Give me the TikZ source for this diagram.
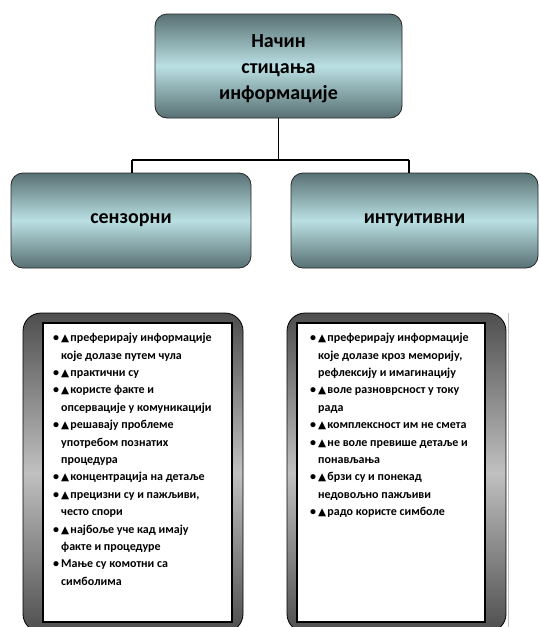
\documentclass[tikz,border=0pt]{standalone}
\usepackage{fontspec}
\setmainfont{Carlito}
\newfontfamily\dejavu{DejaVu Sans}
\definecolor{tealdark}{RGB}{88,112,115}
\definecolor{teallight}{RGB}{186,224,227}
\definecolor{framedark}{RGB}{78,78,78}
\definecolor{framelight}{RGB}{192,192,192}
\newcommand{\mybul}{\makebox[8pt][l]{•}}
\newcommand{\myind}{\hspace*{8pt}}
\newcommand{\mytri}{{\dejavu\fontsize{10.5}{10}\selectfont ▲}\hspace{1.2pt}}
\begin{document}
\begin{tikzpicture}[x=1pt,y=1pt,
  headbox/.style={draw=black!85, line width=0.8pt, rounded corners=12pt,
    top color=tealdark, bottom color=tealdark, middle color=teallight,
    font=\fontsize{20}{26}\selectfont\bfseries, align=center, inner sep=0pt},
  headtext/.style={font=\fontsize{20}{26}\selectfont\bfseries, align=center, inner sep=0pt},
  framebox/.style={draw=black, line width=0.8pt, rounded corners=18pt,
    top color=framedark, bottom color=framedark, middle color=framelight, inner sep=0pt},
  innerbox/.style={draw=black, line width=1.2pt, fill=white, inner sep=0pt},
  listtext/.style={anchor=north west, align=left, inner sep=0pt,
    font=\fontsize{12}{17.4}\selectfont\bfseries},
  conn/.style={draw=black, line width=1.8pt}]
\clip (0,0) rectangle (539,-627);
% top and category boxes
\node[headbox, minimum width=247pt, minimum height=104pt] (top) at (278.5,-66) {};
\node[headtext] (toptext) at (278.5,-69) {Начин\\стицања\\информације};
\node[headbox, minimum width=240pt, minimum height=95pt] (left) at (131,-220.5) {сензорни};
\node[headbox, minimum width=247pt, minimum height=95pt] (right) at (414.5,-220.5) {интуитивни};
% connectors
\coordinate (jl) at (132,-160);
\coordinate (jr) at (409,-160);
\draw[conn] (top.south) -- (top.south |- jl);
\draw[conn] (jl) -- (jr);
\draw[conn] (jl) -- (jl |- left.north);
\draw[conn] (jr) -- (jr |- right.north);
% bottom frames
\node[framebox, minimum width=220pt, minimum height=319pt] (lframe) at (133,-472.5) {};
\node[innerbox, minimum width=189pt, minimum height=299pt] (lbox) at (137.5,-472.5) {};
\node[framebox, minimum width=219pt, minimum height=319pt] (rframe) at (396.5,-472.5) {};
\node[innerbox, minimum width=188pt, minimum height=299pt] (rbox) at (391,-472.5) {};
\draw[black!25, line width=0.8pt] (rframe.north east) ++(2,0) coordinate (gl1) -- (gl1 |- rframe.south);
% lists
\node[listtext] (llist) at (53,-333) {%
\mybul\mytri преферирају информације\\
\myind које долазе путем чула\\
\mybul\mytri практични су\\
\mybul\mytri користе факте и\\
\myind опсервације у комуникацији\\
\mybul\mytri решавају проблеме\\
\myind употребом познатих\\
\myind процедура\\
\mybul\mytri концентрација на детаље\\
\mybul\mytri прецизни су и пажљиви,\\
\myind често спори\\
\mybul\mytri најбоље уче кад имају\\
\myind факте и процедуре\\
\mybul Мање су комотни са\\
\myind симболима};
\node[listtext] (rlist) at (310,-333) {%
\mybul\mytri преферирају информације\\
\myind које долазе кроз меморију,\\
\myind рефлексију и имагинацију\\
\mybul\mytri воле разноврсност у току\\
\myind рада\\
\mybul\mytri комплексност им не смета\\
\mybul\mytri не воле превише детаље и\\
\myind понављања\\
\mybul\mytri брзи су и понекад\\
\myind недовољно пажљиви\\
\mybul\mytri радо користе симболе};
\end{tikzpicture}
\end{document}
